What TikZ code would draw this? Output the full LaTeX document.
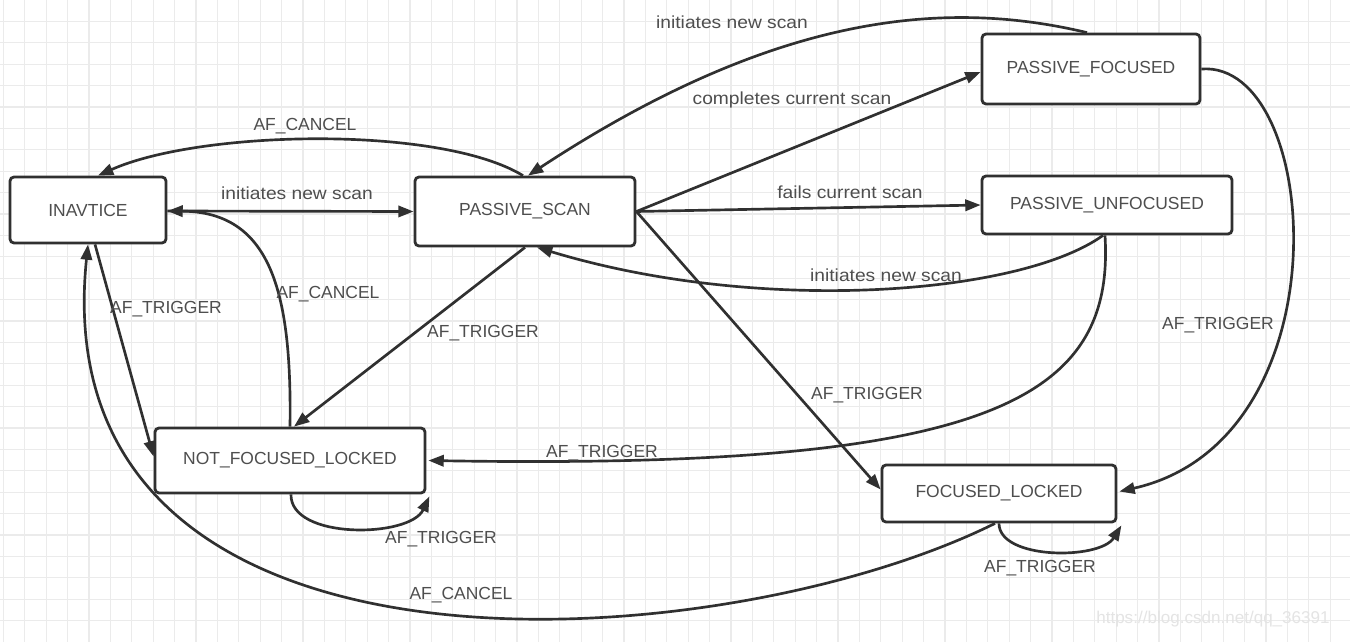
\documentclass[tikz,border=0pt]{standalone}
\usepackage{fontspec}
\setmainfont{Liberation Sans}
\usepackage{graphicx}
\usetikzlibrary{arrows.meta,calc}
\definecolor{gridc}{HTML}{EBEBEB}
\definecolor{linec}{HTML}{303030}
\definecolor{txtc}{HTML}{4E4E4E}
\definecolor{wmc}{HTML}{E4E4E4}
\newcommand{\widetext}[1]{\scalebox{1.1}[1]{#1}}
\begin{document}
\begin{tikzpicture}[x=0.75pt,y=-0.75pt,
  state/.style={draw=linec, line width=2.1pt, rounded corners=3pt, fill=white,
    text=txtc, font=\fontsize{13.1pt}{15pt}\selectfont, inner sep=0pt},
  conn/.style={draw=linec, line width=2pt, -{Triangle[length=11.5pt,width=8.5pt]}},
  lbl/.style={text=txtc, font=\fontsize{13.1pt}{15pt}\selectfont, inner sep=0pt, anchor=base},
  gridline/.style={draw=gridc, line width=0.9pt}]
\useasboundingbox (0,0) rectangle (1350,642);
\fill[white] (0,0) rectangle (1350,642);
% background grid
\foreach \i in {0,...,62} \draw[gridline] ({3.3+21.4*\i},0) -- ++(0,642);
\foreach \j in {1,...,29} \draw[gridline] (0,{21.4*\j}) -- ++(1350,0);
% watermark
\node[anchor=base west, text=wmc, font=\fontsize{12.8pt}{15pt}\selectfont, inner sep=0pt] (wm) at (1096,623) {https://blog.csdn.net/qq\_36391};
% states
\node[state, minimum width=117pt, minimum height=49.5pt] (inact) at (88,210) {INAVTICE};
\node[state, minimum width=165pt, minimum height=51.75pt] (ps) at (525,211.5) {PASSIVE\_SCAN};
\node[state, minimum width=163.5pt, minimum height=52.5pt] (pf) at (1091,69) {PASSIVE\_FOCUSED};
\node[state, minimum width=187.5pt, minimum height=43.5pt] (pu) at (1107,205) {PASSIVE\_UNFOCUSED};
\node[state, minimum width=202.5pt, minimum height=48.75pt] (nfl) at (290,460.5) {NOT\_FOCUSED\_LOCKED};
\node[state, minimum width=175.5pt, minimum height=42.75pt] (fl) at (999,493.5) {FOCUSED\_LOCKED};
% connectors
\draw[conn] ($(inact.east)+(0,1)$) -- (ps.west);
\draw[conn] ($(ps.north)+(-2,0)$) .. controls (440,125) and (200,130) .. ($(inact.north)+(10,0)$);
\draw[conn] ($(pf.north)+(-4,0)$) .. controls (950,0) and (780,10) .. ($(ps.north)+(3,0)$);
\draw[conn] (ps.east) -- ($(pf.west)+(0,3)$);
\draw[conn] (ps.east) -- (pu.west);
\draw[conn] ($(pu.south)+(-4,0)$) .. controls (1020,295) and (760,315) .. ($(ps.south)+(12,0)$);
\draw[conn] (ps.south) -- ($(nfl.north)+(4,0)$);
\draw[conn] (nfl.north) .. controls (292,290) and (270,212) .. ($(inact.east)+(0,1)$);
\draw[conn] ($(inact.south)+(7,0)$) -- ($(nfl.west)+(0,-4)$);
\draw[conn] ($(fl.south)+(-4,0)$) .. controls (720,660) and (40,710) .. (inact.south);
\draw[conn] (ps.east) -- ($(fl.west)+(0,-4)$);
\draw[conn] ($(pu.south)+(-2,0)$) .. controls (1115,400) and (990,470) .. ($(nfl.east)+(2,0)$);
\draw[conn] (pf.east) .. controls (1322,60) and (1348,440) .. ($(fl.east)+(2,-2)$);
\draw[conn] ($(nfl.south)+(1,0)$) .. controls (290,540) and (410,538) .. ($(nfl.south east)+(3,2)$);
\draw[conn] (fl.south) .. controls (999,560) and (1100,560) .. ($(fl.south east)+(4,2)$);
% labels
\node[lbl] (l1) at (297,199) {\widetext{initiates new scan}};
\node[lbl] (l2) at (305,131) {AF\_CANCEL};
\node[lbl] (l3) at (732,29) {\widetext{initiates new scan}};
\node[lbl] (l4) at (792,104) {\widetext{completes current scan}};
\node[lbl] (l5) at (850,198) {\widetext{fails current scan}};
\node[lbl] (l6) at (886,281) {\widetext{initiates new scan}};
\node[lbl] (l7) at (483,337) {AF\_TRIGGER};
\node[lbl] (l8) at (328,298) {AF\_CANCEL};
\node[lbl] (l9) at (166,313) {AF\_TRIGGER};
\node[lbl] (l10) at (461,599) {AF\_CANCEL};
\node[lbl] (l11) at (867,399) {AF\_TRIGGER};
\node[lbl] (l12) at (602,457) {AF\_TRIGGER};
\node[lbl] (l13) at (1218,329) {AF\_TRIGGER};
\node[lbl] (l14) at (441,543) {AF\_TRIGGER};
\node[lbl] (l15) at (1040,572) {AF\_TRIGGER};
\end{tikzpicture}
\end{document}
